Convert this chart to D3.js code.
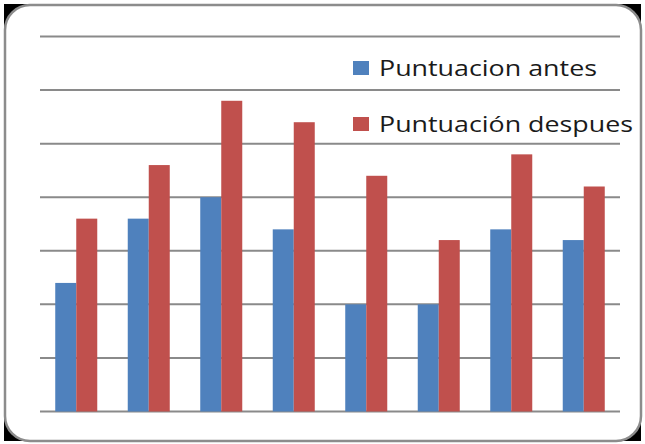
<!DOCTYPE html>
<html>
<head>
<meta charset="utf-8">
<script src="https://cdn.jsdelivr.net/npm/d3@7"></script>
<style>
  html, body { margin: 0; padding: 0; background: #fff; }
  svg { display: block; }
</style>
</head>
<body>
<div id="chart"></div>
<script>
// Chart data
const categories = ["1", "2", "3", "4", "5", "6", "7", "8"];
const seriesNames = ["Puntuacion antes", "Puntuación despues"];
const antes = [12, 18, 20, 17, 10, 10, 17, 16];
const despues = [18, 23, 29, 27, 22, 16, 24, 21];
const yTicks = [0, 5, 10, 15, 20, 25, 30, 35];
const colors = ["#4f81bd", "#c0504d"];

const W = 645, H = 444;

const svg = d3.select("#chart")
    .append("svg")
    .attr("width", W)
    .attr("height", H);

// odd black corner shading outside the rounded frame
const corners = [[4, 4], [618, 4], [4, 418], [618, 418]];
svg.selectAll(".corner")
    .data(corners)
    .enter()
    .append("rect")
    .attr("class", "corner")
    .attr("x", d => d[0])
    .attr("y", d => d[1])
    .attr("width", 23)
    .attr("height", 23)
    .attr("fill", "#000");

// frame
svg.append("rect")
    .attr("x", 5)
    .attr("y", 5)
    .attr("width", 636)
    .attr("height", 436)
    .attr("rx", 25)
    .attr("fill", "#fff")
    .attr("stroke", "#8c8c8c")
    .attr("stroke-width", 2.5);

// scales
const x0 = d3.scaleBand()
    .domain(categories)
    .range([40, 620])
    .padding(0);

const x1 = d3.scaleBand()
    .domain(seriesNames)
    .range([0, x0.bandwidth()])
    .paddingInner(0)
    .paddingOuter(0.726);

const y = d3.scaleLinear()
    .domain([0, 35])
    .range([411.5, 36.5]);

// gridlines
svg.append("g")
    .attr("class", "grid")
    .selectAll("line")
    .data(yTicks)
    .enter()
    .append("line")
    .attr("x1", 40)
    .attr("x2", 620)
    .attr("y1", d => y(d))
    .attr("y2", d => y(d))
    .attr("stroke", "#8a8a8a")
    .attr("stroke-width", 2);

// bars
const rows = categories.map((c, i) => ({ cat: c, values: [antes[i], despues[i]] }));

const groups = svg.append("g")
    .selectAll("g")
    .data(rows)
    .enter()
    .append("g")
    .attr("transform", d => `translate(${x0(d.cat)},0)`);

groups.selectAll("rect")
    .data(d => d.values.map((v, j) => ({ key: seriesNames[j], value: v, j: j })))
    .enter()
    .append("rect")
    .attr("x", d => x1(d.key))
    .attr("y", d => y(d.value))
    .attr("width", x1.bandwidth())
    .attr("height", d => y(0) - y(d.value))
    .attr("fill", d => colors[d.j]);

// legend
const legendY = [61, 117];
const legendW = [218, 254];
const legend = svg.append("g")
    .selectAll("g")
    .data(seriesNames)
    .enter()
    .append("g");

legend.append("rect")
    .attr("x", 353)
    .attr("y", (d, i) => legendY[i])
    .attr("width", 16)
    .attr("height", 14)
    .attr("fill", (d, i) => colors[i]);

legend.append("text")
    .attr("x", 379)
    .attr("y", (d, i) => legendY[i] + 15)
    .attr("font-family", "'Open Sans', sans-serif")
    .attr("font-size", 21)
    .attr("fill", "#1a1a1a")
    .attr("textLength", (d, i) => legendW[i])
    .attr("lengthAdjust", "spacingAndGlyphs")
    .text(d => d);
</script>
</body>
</html>
